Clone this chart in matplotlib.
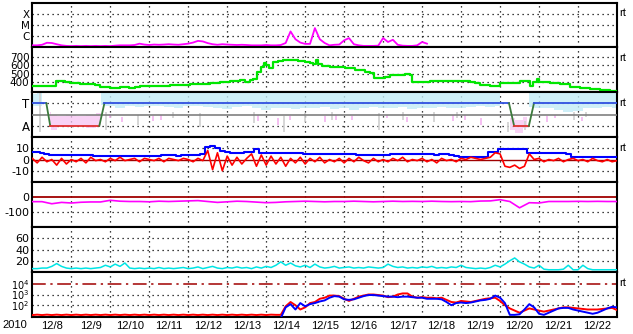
import numpy as np
import matplotlib
matplotlib.use("Agg")
import matplotlib.pyplot as plt

plt.rcParams['font.family'] = ['Liberation Sans', 'DejaVu Sans']
plt.rcParams['mathtext.fontset'] = 'custom'
plt.rcParams['mathtext.rm'] = 'DejaVu Sans'
plt.rcParams['mathtext.it'] = 'DejaVu Sans:italic'

nan = np.nan
# ---------------- DATA ----------------
year_label = "2010"
date_labels = ["12/8", "12/9", "12/10", "12/11", "12/12", "12/13", "12/14", "12/15",
               "12/16", "12/17", "12/18", "12/19", "12/20", "12/21", "12/22"]
n_days = 15

# 3-hourly sample times (days since 12/8 00:00)
t8 = np.arange(121) / 8.0
# 6-hourly sample times
tq = np.arange(61) / 4.0

# X-ray flux (log10 W/m2), ends ~12/18 03:00
xray_log = [-6.85, -6.85, -6.8, -6.62, -6.64, -6.75, -6.85, -6.9, -6.92, -6.9,
            -6.92, -6.9, -6.92, -6.9, -6.92, -6.9, -6.92, -6.88, -6.85, -6.85,
            -6.85, -6.82, -6.7, -6.78, -6.82, -6.78, -6.8, -6.78, -6.75, -6.78,
            -6.8, -6.75, -6.7, -6.6, -6.45, -6.5, -6.65, -6.75, -6.8, -6.75,
            -6.78, -6.8, -6.82, -6.8, -6.82, -6.85, -6.85, -6.85, -6.82, -6.85,
            -6.85, -6.82, -6.64, -5.6, -6.3, -6.6, -6.72, -6.72, -5.3, -6.3,
            -6.64, -6.85, -6.8, -6.78, -6.4, -6.2, -6.75, -6.85, -6.9, -6.9,
            -6.9, -6.88, -6.2, -6.55, -6.35, -6.8, -6.88, -6.9, -6.9, -6.85,
            -6.55, -6.7] + [nan] * 39
xray_levels = [1e-4, 1e-5, 1e-6]
xray_names = ["X", "M", "C"]

# Solar wind speed (km/s)
speed_t = [0.0, 0.33, 0.58, 0.61, 0.71, 0.84, 0.97, 1.22, 1.48, 1.61, 1.74, 1.99, 2.24,
           2.49, 2.63, 2.76, 3.02, 3.27, 3.53, 3.78, 4.04, 4.30, 4.56, 4.81, 5.07, 5.33,
           5.46, 5.59, 5.66, 5.76, 5.87, 5.94, 5.99, 6.07, 6.17, 6.30, 6.43, 6.56, 6.69,
           6.82, 7.0, 7.12, 7.2, 7.28, 7.33, 7.43, 7.64, 7.84, 8.02, 8.15, 8.28, 8.41,
           8.53, 8.66, 8.77, 8.92, 9.05, 9.18, 9.30, 9.43, 9.56, 9.69, 9.74, 9.95, 10.2,
           10.46, 10.72, 10.97, 11.23, 11.35, 11.49, 11.75, 12.0, 12.26, 12.51, 12.7,
           12.77, 12.85, 12.95, 13.0, 13.28, 13.54, 13.79, 13.92, 14.05, 14.31, 14.56,
           14.82, 15.0]
speed_v = [352, 355, 352, 412, 415, 400, 388, 376, 376, 364, 340, 328, 334,
           328, 340, 352, 350, 352, 360, 365, 370, 376, 388, 400, 412, 420,
           400, 424, 430, 520, 580, 628, 600, 568, 640, 650, 664, 660, 664,
           650, 640, 630, 616, 664, 620, 590, 580, 575, 568, 568, 544, 540,
           520, 508, 448, 450, 455, 480, 486, 484, 490, 484, 400, 405, 412,
           410, 415, 412, 400, 392, 360, 352, 388, 388, 412, 410,
           356, 400, 436, 405, 392, 372, 340, 345, 325, 315, 305,
           295, 292]
speed_ticks = [700, 600, 500, 400]

# Magnetic sector (T = toward, A = away), angle scale 0..360
sector_t = [0.0, 0.36, 0.46, 1.72, 1.85, 12.23, 12.36, 12.74, 12.87, 15.0]
sector_v = [270, 270, 90, 90, 270, 270, 90, 90, 270, 270]
phi_hi = [345, 352, nan, nan, nan, nan, nan, 350, 355, 350, 355, 352, 355, 350, 352,
          355, 350, 355, 352, 350, 355, 352, 356, 354, 355, 352, 355, 350, 354, 356,
          352, 355, 350, 354, 352, 355, 350, 353, 355, 352, 354, 350, 355, 352, 350,
          354, 352, 355, 352, nan, nan, 350, 354, 352, 355, 350, 352, 355, 350, 354, 352]
phi_lo = [250, 245, nan, nan, nan, nan, nan, 255, 250, 235, 245, 240, 250, 245, 240,
          235, 245, 250, 240, 235, 225, 240, 245, 230, 220, 235, 230, 225, 235, 230,
          240, 225, 230, 220, 235, 240, 230, 235, 240, 225, 235, 230, 240, 235, 230,
          240, 245, 240, 250, nan, nan, 240, 235, 230, 215, 200, 210, 230, 235, 240, 235]
away1_t = [0.45, 0.5, 0.75, 1.0, 1.25, 1.5, 1.75]
away1_hi = [200, 175, 170, 180, 170, 175, 190]
away1_lo = [120, 60, 90, 80, 85, 75, 100]
away2_t = [12.25, 12.5, 12.7]
away2_hi = [150, 140, 160]
away2_lo = [60, 30, 70]
pink_t = [2.0, 2.3, 3.1, 3.3, 5.8, 6.3, 6.6, 7.5, 7.8, 8.2, 9.1, 9.6, 10.8, 11.1, 11.5, 13.2, 13.4, 14.1]
pink_lo = [150, 120, 130, 140, 130, 100, 140, 120, 135, 140, 150, 120, 130, 140, 100, 120, 150, 130]
pink_hi = [185, 160, 170, 175, 180, 150, 170, 165, 175, 170, 175, 160, 175, 180, 150, 170, 180, 160]
gray_t = [0.2, 1.9, 2.7, 3.6, 4.3, 5.7, 6.45, 7.0, 7.7, 8.9, 9.5, 10.3, 10.9, 12.2, 12.65, 13.9, 14.2]
gray_lo = [40, 60, 100, 150, 80, 110, 40, 120, 140, 60, 140, 120, 150, 40, 60, 140, 160]
gray_hi = [350, 200, 180, 200, 190, 200, 170, 190, 200, 190, 200, 200, 200, 120, 130, 200, 200]

# IMF Bz (red) and Bt (blue), nT
bz = [1, -3, 2, -2, 0, -5, 1, -4,
      0, -2, 1, -3, 2, -1, 0, -2,
      1, -1, 2, -1, 0, 1, -2, 1,
      0, -1, 1, -2, 1, 0, -1, 1,
      0, -2, 1, -1, 8, -9, 6, -10,
      3, -5, 2, -4, 1, 5, -6, 4,
      -5, 3, -4, 2, -6, 1, -3, 2,
      -4, 1, -2, 2, -3, 0, -2, 1,
      -3, 1, -2, 2, -1, -3, 1, -2,
      0, -2, 1, -1, 2, -2, 0, -1,
      1, -2, 0, -3, 1, -1, 0, -2,
      1, 0, 2, 1, 0, 1, 2, 6,
      5, -6, -7, -5, -8, -6, 5, 0,
      1, -2, 0, -1, 1, -2, 0, 1,
      -1, 0, -2, 1, -1, -2, 0, -2, -1]
bt = [6.5, 6.5, 6, 4.5, 4, 4, 4, 4,
      4, 4, 4, 4, 4, 3.5, 3.5, 3,
      3, 3, 3, 3, 3, 3, 3, 3,
      3, 3.5, 3.5, 4, 4, 4, 3.5, 4,
      4, 4, 4, 5, 11, 12, 10, 8,
      7, 6, 6, 6, 6.5, 6.5, 9, 6,
      5.5, 5.5, 5.5, 5.5, 5.5, 5.5, 5.5, 5.5,
      5, 5, 5, 5, 5, 5, 5, 5,
      5, 5, 4.5, 4, 4, 4, 4, 4,
      4, 4, 4.5, 4.5, 5, 4.5, 4.5, 4.5,
      4.5, 4.5, 4.5, 4, 4.5, 4.5, 4, 3,
      2, 2, 2, 2, 2, 2.5, 6.5, 7,
      9, 9, 9, 9, 9, 9, 6, 5.5,
      5.5, 5.5, 5.5, 5.5, 5.5, 5.5, 5, 2.5,
      2.5, 2, 2, 2, 2.5, 2, 2, 2, 2]
b_ticks = [10, 0, -10]

# Dst-like index (nT), 6-hourly
dst = [-31, -31, -45, -36, -40, -35, -33, -33, -22, -28,
       -30, -30, -32, -28, -30, -28, -26, -24, -30, -36,
       -32, -28, -30, -34, -38, -36, -32, -30, -28, -30,
       -32, -30, -30, -28, -30, -32, -30, -28, -30, -29,
       -30, -28, -30, -31, -30, -31, -27, -26, -18, -30,
       -72, -38, -40, -30, -30, -30, -29, -30, -29, -30, -30]
dst_ticks = [0, -100]

# Solar wind density (p/cc), 3-hourly
dens = [6, 6, 7, 7, 10, 15, 10, 7, 6, 7,
        6, 7, 6, 7, 8, 12, 9, 14, 10, 16,
        7, 6, 7, 6, 7, 6, 8, 6, 7, 6,
        7, 8, 6, 7, 9, 6, 8, 10, 7, 6,
        8, 7, 9, 7, 8, 6, 9, 7, 10, 8,
        12, 18, 12, 16, 11, 9, 12, 8, 14, 9,
        7, 8, 10, 7, 8, 9, 7, 8, 7, 9,
        8, 7, 8, 14, 10, 8, 9, 7, 8, 7,
        9, 8, 10, 7, 8, 7, 9, 8, 12, 8,
        7, 6, 7, 6, 8, 12, 9, 14, 20, 25,
        18, 14, 9, 7, 12, 5, 4, 4, 4, 5,
        12, 4, 4, 12, 6, 4, 4, 4, 4, 4, 4]
dens_ticks = [60, 40, 20]

# Proton flux (log10), two channels
prot_red = [1.08, 1.12] * 25 + [1.1,
            1.1, 1.9, 2.3, 2.0, 1.6, 1.8, 2.2, 2.3, 2.6, 2.7,
            2.9, 2.9, 2.85, 2.6, 2.4, 2.6, 2.8, 2.9, 3.0, 3.0,
            2.95, 2.9, 2.75, 2.8, 3.0, 3.1, 3.1, 2.8, 2.7, 2.75,
            2.7, 2.7, 2.65, 2.7, 2.5, 2.3, 2.25, 2.4, 2.35, 2.3,
            2.4, 2.5, 2.6, 2.65, 2.7, 2.4, 2.0, 1.7, 1.5, 1.3,
            1.5, 1.7, 1.6, 1.5, 1.4, 1.5, 1.6, 1.7, 1.8, 1.8,
            1.75, 1.7, 1.65, 1.6, 1.6, 1.6, 1.65, 1.7, 1.75, 1.55]
prot_blue = [0.7] * 51 + [
             0.8, 1.8, 2.1, 1.6, 2.2, 1.9, 2.1, 2.2, 2.35, 2.45,
             2.7, 2.85, 2.8, 2.55, 2.5, 2.55, 2.7, 2.85, 2.95, 2.95,
             2.9, 2.85, 2.8, 2.8, 2.75, 2.8, 2.8, 2.75, 2.7, 2.7,
             2.6, 2.6, 2.6, 2.55, 2.3, 2.0, 2.2, 2.25, 2.2, 2.25,
             2.35, 2.45, 2.5, 2.6, 2.9, 2.7, 2.2, 1.1, 1.1, 1.15,
             1.6, 2.1, 1.8, 1.2, 1.1, 1.3, 1.5, 1.7, 1.75, 1.75,
             1.6, 1.5, 1.4, 1.3, 1.2, 1.3, 1.5, 1.7, 1.85, 1.8]
prot_ticks = [1e4, 1e3, 1e2]
prot_names = [r"$10^4$", r"$10^3$", r"$10^2$"]

# ---------------- LAYOUT ----------------
W, H = 633, 334
fig = plt.figure(figsize=(W / 100, H / 100), dpi=100)
fig.patch.set_facecolor("white")
left_px, right_px = 32.3, 617
bounds = [2.5, 47, 92, 137, 182, 227, 272, 317]
dot = (0, (1, 3))
FS = 8
WIDE = ['DejaVu Sans']


def make_ax(i):
    top, bot = bounds[i], bounds[i + 1]
    ax = fig.add_axes([left_px / W, 1 - bot / H, (right_px - left_px) / W, (bot - top) / H])
    ax.set_xlim(0, n_days)
    ax.set_xticks([])
    for s in ax.spines.values():
        s.set_linewidth(1.5)
        s.set_color("black")
    for d in range(1, n_days):
        ax.axvline(d, color="black", lw=0.9, ls=dot, zorder=1)
    return ax


def yt(ax, vals, names, fs=FS, family=None):
    ax.set_yticks(vals, names)
    ax.tick_params(axis="y", length=0, pad=2, labelsize=fs)
    if family:
        for lab in ax.get_yticklabels():
            lab.set_family(family)


def hgrid(ax, vals):
    for v in vals:
        ax.axhline(v, color="black", lw=0.9, ls=dot, zorder=1)


def rt(i):
    fig.text(619 / W, 1 - (bounds[i] + 11) / H, "rt", fontsize=FS, ha="left", va="center")


# Panel 1: X-ray
ax = make_ax(0)
ax.set_yscale("log")
ax.set_ylim(1e-7, 1e-3)
ax.minorticks_off()
yt(ax, xray_levels, xray_names, 7.5, WIDE)
hgrid(ax, xray_levels)
ax.plot(t8, 10 ** np.array(xray_log), color="#ff00ff", lw=1.3, zorder=3)
rt(0)

# Panel 2: speed
ax = make_ax(1)
ax.set_ylim(280, 820)
yt(ax, speed_ticks, [str(v) for v in speed_ticks], 7.5, WIDE)
hgrid(ax, speed_ticks)
ax.plot(speed_t, speed_v, color="#00e600", lw=1.6, drawstyle="steps-post", zorder=3)
rt(1)

# Panel 3: sector
ax = make_ax(2)
ax.set_ylim(0, 360)
yt(ax, [270, 90], ["T", "A"], 8.5, WIDE)
hgrid(ax, [270, 90])
ax.fill_between(tq, phi_lo, phi_hi, step="mid", color="#c2ebf7", alpha=0.8, lw=0, zorder=2)
ax.fill_between(away1_t, away1_lo, away1_hi, step="mid", color="#f6c4f2", alpha=0.75, lw=0, zorder=2)
ax.fill_between(away2_t, away2_lo, away2_hi, step="mid", color="#f6c4f2", alpha=0.75, lw=0, zorder=2)
ax.vlines(pink_t, pink_lo, pink_hi, color="#f4b4f0", lw=1.2, zorder=2)
ax.vlines(gray_t, gray_lo, gray_hi, color="#d0d0d0", lw=1.2, zorder=2)
ax.axhline(180, color="#808080", lw=1.2, zorder=3)
st, sv = sector_t, sector_v
for k in range(len(st) - 1):
    if sv[k] == sv[k + 1]:
        c = "#3050e0" if sv[k] == 270 else "#e03030"
    else:
        c = "#3c7a3c"
    ax.plot(st[k:k + 2], sv[k:k + 2], color=c, lw=1.3, zorder=4)
rt(2)

# Panel 4: Bz / Bt
ax = make_ax(3)
ax.set_ylim(-20, 20)
yt(ax, b_ticks, [str(v) for v in b_ticks], 8, WIDE)
hgrid(ax, [10, -10])
ax.axhline(0, color="#a00000", lw=1.0, zorder=2)
ax.plot(t8, bt, color="#0000ff", lw=1.5, drawstyle="steps-mid", zorder=3)
ax.plot(t8, bz, color="#ff0000", lw=1.2, zorder=4)
rt(3)

# Panel 5: Dst
ax = make_ax(4)
ax.set_ylim(-200, 100)
yt(ax, dst_ticks, [str(v) for v in dst_ticks], 8, WIDE)
hgrid(ax, [-100])
ax.axhline(0, color="#a00000", lw=1.3, zorder=2)
ax.plot(tq, dst, color="#ff00ff", lw=1.2, zorder=3)

# Panel 6: density
ax = make_ax(5)
ax.set_ylim(0, 80)
yt(ax, dens_ticks, [str(v) for v in dens_ticks], 8, WIDE)
hgrid(ax, dens_ticks)
ax.plot(t8, dens, color="#00e5e5", lw=1.1, zorder=3)

# Panel 7: protons
ax = make_ax(6)
ax.set_yscale("log")
ax.set_ylim(10 ** 0.9, 10 ** 5.1)
ax.minorticks_off()
yt(ax, prot_ticks, prot_names, 7, WIDE)
hgrid(ax, [1e3, 1e2])
ax.axhline(1e4, color="#a00000", lw=1.1, ls=(0, (9, 3, 1.5, 3)), zorder=2)
ax.plot(t8, 10 ** np.array(prot_red), color="#ff0000", lw=1.4, zorder=3)
ax.plot(t8, 10 ** np.array(prot_blue), color="#0000ff", lw=1.4, zorder=4)
ax.set_xticks(np.arange(n_days) + 0.5, date_labels)
ax.tick_params(axis="x", length=0, pad=3, labelsize=FS)
rt(6)

fig.text(15 / W, 1 - 325 / H, year_label, fontsize=FS, ha="center", va="center")

fig.savefig("out.png", dpi=100, facecolor="white")
